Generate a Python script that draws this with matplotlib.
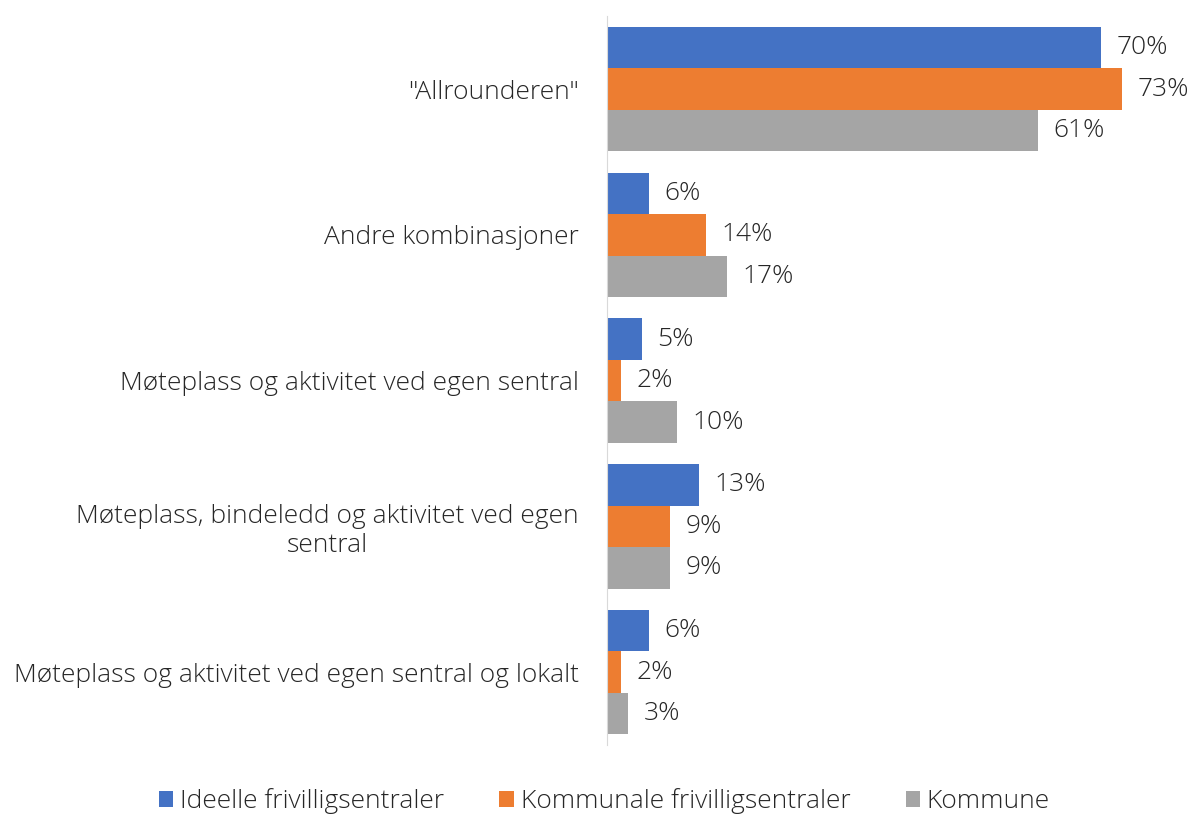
import matplotlib.pyplot as plt
import numpy as np

plt.rcParams['font.family'] = ['Open Sans', 'DejaVu Sans']
plt.rcParams['font.weight'] = 'light'

categories = [
    '"Allrounderen"',
    'Andre kombinasjoner',
    'Møteplass og aktivitet ved egen sentral',
    'Møteplass, bindeledd og aktivitet ved egen\nsentral',
    'Møteplass og aktivitet ved egen sentral og lokalt',
]
series_names = ['Ideelle frivilligsentraler', 'Kommunale frivilligsentraler', 'Kommune']
ideelle = [70, 6, 5, 13, 6]
kommunale = [73, 14, 2, 9, 2]
kommune = [61, 17, 10, 9, 3]
colors = ['#4472C4', '#ED7D31', '#A5A5A5']

fig = plt.figure(figsize=(11.92, 8.15), dpi=100)
ax = fig.add_axes([0.509, 0.086, 0.474, 0.894])

y = np.arange(len(categories))
h = 0.285
for k, (vals, name, c) in enumerate(zip([ideelle, kommunale, kommune], series_names, colors)):
    pos = y + (k - 1) * h
    ax.barh(pos, vals, height=h, color=c, label=name)
    for p, v in zip(pos, vals):
        ax.text(v + 2.2, p, f'{v}%', va='center', ha='left', fontsize=19, color='#262626')

ax.set_xlim(0, 80)
ax.set_ylim(len(categories) - 0.5, -0.5)
ax.set_yticks(y)
ax.set_yticklabels(categories, fontsize=19, color='#262626', multialignment='center')
ax.tick_params(axis='y', length=0, pad=20)
ax.set_xticks([])
for s in ['top', 'right', 'bottom']:
    ax.spines[s].set_visible(False)
ax.spines['left'].set_color('#D9D9D9')

fig.legend(loc='lower center', bbox_to_anchor=(0.507, -0.028), ncol=3, frameon=False,
           fontsize=19, handlelength=0.55, handleheight=0.55, columnspacing=2.1,
           handletextpad=0.25, labelcolor='#262626')

fig.savefig('out.png', dpi=100)
